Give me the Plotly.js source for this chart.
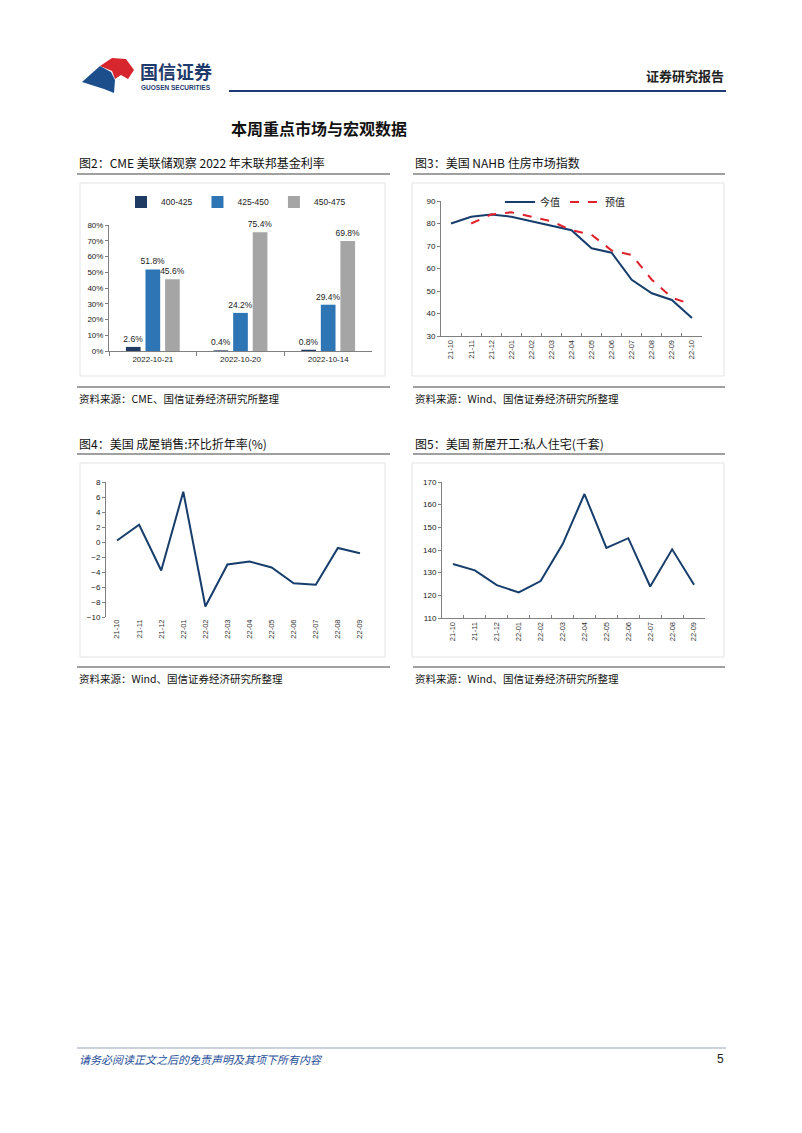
<!DOCTYPE html>
<html>
<head>
<meta charset="utf-8">
<script src="https://cdn.plot.ly/plotly-3.0.1.min.js"></script>
<style>
body { margin: 0; background: #fff; }
#page { width: 802px; height: 1133px; }
</style>
</head>
<body>
<div id="page"></div>
<script>
// 图2 CME 美联储观察
var fedDates = ['2022-10-21', '2022-10-20', '2022-10-14'];
var rateNames = ['400-425', '425-450', '450-475'];
var rate400 = [2.6, 0.4, 0.8];
var rate425 = [51.8, 24.2, 29.4];
var rate450 = [45.6, 75.4, 69.8];

// 图3 NAHB 住房市场指数
var nahbMonths = ['21-10', '21-11', '21-12', '22-01', '22-02', '22-03', '22-04', '22-05', '22-06', '22-07', '22-08', '22-09', '22-10'];
var nahbActual = [80, 83, 84, 83, 81, 79, 77, 69, 67, 55, 49, 46, 38];
var nahbForecast = [null, 80, 84, 85, 83, 81, 77, 75, 68, 66, 55, 47, 44];

// 图4 成屋销售 环比折年率
var saleMonths = ['21-10', '21-11', '21-12', '22-01', '22-02', '22-03', '22-04', '22-05', '22-06', '22-07', '22-08', '22-09'];
var homeSales = [0.2, 2.3, -3.8, 6.7, -8.6, -3.0, -2.6, -3.4, -5.5, -5.7, -0.8, -1.5];

// 图5 新屋开工 私人住宅
var startMonths = ['21-10', '21-11', '21-12', '22-01', '22-02', '22-03', '22-04', '22-05', '22-06', '22-07', '22-08', '22-09'];
var housingStarts = [133.8, 131.0, 124.5, 121.3, 126.3, 142.5, 164.7, 140.9, 145.2, 123.9, 140.3, 124.7];

var W = 802, H = 1133;
function px(x) { return x / W; }
function py(y) { return 1 - y / H; }

var cjk = '"Noto Sans CJK SC", "Liberation Sans", sans-serif';
var sans = '"Liberation Sans", Arial, sans-serif';
var navy = '#163d6b';
var axisGray = '#808080';

function pct(arr) {
    return arr.map(function (v) { return v.toFixed(1) + '%'; });
}

var barColors = ['#1f3b63', '#2e75b6', '#a5a5a5'];
var barData = [rate400, rate425, rate450];

var data = [];
for (let i = 0; i < 3; i++) {
    data.push({
        type: 'bar',
        x: fedDates,
        y: barData[i],
        name: rateNames[i],
        marker: { color: barColors[i] },
        text: pct(barData[i]),
        textposition: 'outside',
        constraintext: 'none',
        cliponaxis: false,
        textfont: { family: sans, size: 8.5, color: '#222' },
        xaxis: 'x',
        yaxis: 'y',
        legend: 'legend',
        hoverinfo: 'skip'
    });
}

data.push({
    type: 'scatter', mode: 'lines',
    x: nahbMonths, y: nahbActual, name: '今值',
    line: { color: navy, width: 2 },
    xaxis: 'x2', yaxis: 'y2', legend: 'legend2'
});
data.push({
    type: 'scatter', mode: 'lines',
    x: nahbMonths, y: nahbForecast, name: '预值',
    line: { color: '#e0202a', width: 2, dash: 'dash' },
    connectgaps: false,
    xaxis: 'x2', yaxis: 'y2', legend: 'legend2'
});
data.push({
    type: 'scatter', mode: 'lines',
    x: saleMonths, y: homeSales, showlegend: false,
    line: { color: navy, width: 2 },
    xaxis: 'x3', yaxis: 'y3'
});
data.push({
    type: 'scatter', mode: 'lines',
    x: startMonths, y: housingStarts, showlegend: false,
    line: { color: navy, width: 2 },
    xaxis: 'x4', yaxis: 'y4'
});

var tickFont = { family: sans, size: 8, color: '#222' };
var rotFont = { family: sans, size: 7.5, color: '#333' };

function catAxis(dom, anchor, n, extra) {
    var ax = {
        domain: dom, anchor: anchor, type: 'category',
        range: [-0.5, n - 0.5],
        showline: true, linecolor: axisGray, linewidth: 1,
        showgrid: false, zeroline: false,
        tickson: 'boundaries', ticks: 'inside', ticklen: 3, tickcolor: axisGray,
        tickangle: -90, tickfont: rotFont, fixedrange: true
    };
    for (var k in extra) ax[k] = extra[k];
    return ax;
}
function valAxis(dom, anchor, range, dtick, extra) {
    var ax = {
        domain: dom, anchor: anchor, range: range, dtick: dtick,
        showline: true, linecolor: axisGray, linewidth: 1,
        showgrid: false, zeroline: false,
        ticks: 'outside', ticklen: 3, tickcolor: axisGray,
        tickfont: tickFont, fixedrange: true
    };
    for (var k in extra) ax[k] = extra[k];
    return ax;
}

// 图4 的横轴线画在 0 处
var y3Range = [-10, 8];
var y3Dom = [py(617), py(482)];
var zeroPos = y3Dom[0] + (0 - y3Range[0]) / (y3Range[1] - y3Range[0]) * (y3Dom[1] - y3Dom[0]);

var layout = {
    width: W, height: H,
    margin: { l: 0, r: 0, t: 0, b: 0 },
    paper_bgcolor: '#fff', plot_bgcolor: 'rgba(0,0,0,0)',
    barmode: 'group', bargap: 0.33, bargroupgap: 0.25,
    xaxis: catAxis([px(109), px(372)], 'y', 3, {
        tickangle: 0, ticks: 'outside', ticklen: 4, tickfont: tickFont
    }),
    yaxis: valAxis([py(351), py(225)], 'x', [0, 80], 10, { ticksuffix: '%' }),
    xaxis2: catAxis([px(441), px(702)], 'y2', nahbMonths.length, {}),
    yaxis2: valAxis([py(336), py(201)], 'x2', [30, 90], 10, {}),
    xaxis3: catAxis([px(106), px(371)], 'y3', saleMonths.length, {
        showline: false, ticks: ''
    }),
    yaxis3: valAxis(y3Dom, 'x3', y3Range, 2, {}),
    xaxis5: {
        overlaying: 'x3', anchor: 'free', position: zeroPos,
        range: [-0.5, saleMonths.length - 0.5],
        tickmode: 'linear', tick0: 0.5, dtick: 1,
        showticklabels: false, showline: true, linecolor: axisGray,
        ticks: 'outside', ticklen: 3, tickcolor: axisGray,
        showgrid: false, zeroline: false, fixedrange: true
    },
    xaxis4: catAxis([px(442), px(705)], 'y4', startMonths.length, {}),
    yaxis4: valAxis([py(618), py(482)], 'x4', [110, 170], 10, {}),
    legend: {
        orientation: 'h', x: px(236), xanchor: 'center', y: py(202), yanchor: 'middle',
        font: { family: sans, size: 8.5, color: '#222' },
        bgcolor: 'rgba(0,0,0,0)', itemwidth: 30, tracegroupgap: 0
    },
    legend2: {
        orientation: 'h', x: px(500), xanchor: 'left', y: py(202), yanchor: 'middle',
        font: { family: cjk, size: 10, color: '#222' },
        bgcolor: 'rgba(0,0,0,0)'
    },
    shapes: [],
    annotations: []
};

// 页眉页脚的线条
layout.shapes.push({ type: 'line', xref: 'paper', yref: 'paper', x0: px(229), x1: px(726), y0: py(91), y1: py(91), line: { color: '#1f3b73', width: 2 } });
layout.shapes.push({ type: 'line', xref: 'paper', yref: 'paper', x0: px(77), x1: px(726), y0: py(1048), y1: py(1048), line: { color: '#9aa6b8', width: 1 } });

// logo
layout.shapes.push({
    type: 'path', xref: 'paper', yref: 'paper',
    path: 'M' + px(100) + ',' + py(66) + ' L' + px(112) + ',' + py(58) + ' L' + px(126) + ',' + py(59) +
        ' L' + px(134) + ',' + py(70) + ' L' + px(128) + ',' + py(79) + ' L' + px(121) + ',' + py(75) +
        ' L' + px(115) + ',' + py(79) + ' L' + px(112) + ',' + py(71) + ' Z',
    fillcolor: '#d7262e', line: { width: 0 }
});
layout.shapes.push({
    type: 'path', xref: 'paper', yref: 'paper',
    path: 'M' + px(82) + ',' + py(82) + ' L' + px(100) + ',' + py(66) + ' L' + px(111) + ',' + py(72) +
        ' L' + px(115) + ',' + py(80) + ' L' + px(114) + ',' + py(93) + ' L' + px(104) + ',' + py(89) + ' Z',
    fillcolor: '#1d4e8c', line: { width: 0 }
});

// 四个图的标题线、框和来源线
var panels = [
    { x0: 77, x1: 390, top: 163, box: [80, 385, 183, 376], src: 387, title: '图2：CME 美联储观察 2022 年末联邦基金利率', source: '资料来源：CME、国信证券经济研究所整理' },
    { x0: 413, x1: 725, top: 163, box: [412, 724, 183, 376], src: 387, title: '图3：美国 NAHB 住房市场指数', source: '资料来源：Wind、国信证券经济研究所整理' },
    { x0: 77, x1: 390, top: 443, box: [80, 385, 463, 657], src: 667, title: '图4：美国 成屋销售:环比折年率(%)', source: '资料来源：Wind、国信证券经济研究所整理' },
    { x0: 413, x1: 725, top: 443, box: [412, 724, 463, 657], src: 667, title: '图5：美国 新屋开工:私人住宅(千套)', source: '资料来源：Wind、国信证券经济研究所整理' }
];
panels.forEach(function (p) {
    layout.shapes.push({ type: 'line', xref: 'paper', yref: 'paper', x0: px(p.x0), x1: px(p.x1), y0: py(p.top + 11), y1: py(p.top + 11), line: { color: '#808080', width: 1.5 } });
    layout.shapes.push({ type: 'rect', xref: 'paper', yref: 'paper', x0: px(p.box[0]), x1: px(p.box[1]), y0: py(p.box[3]), y1: py(p.box[2]), line: { color: '#e3e3e3', width: 1 } });
    layout.shapes.push({ type: 'line', xref: 'paper', yref: 'paper', x0: px(p.x0), x1: px(p.x1), y0: py(p.src), y1: py(p.src), line: { color: '#808080', width: 1.5 } });
    layout.annotations.push({ xref: 'paper', yref: 'paper', x: px(p.x0), y: py(p.top), xanchor: 'left', yanchor: 'middle', showarrow: false, text: p.title, font: { family: cjk, size: 12, color: '#111' } });
    layout.annotations.push({ xref: 'paper', yref: 'paper', x: px(p.x0), y: py(p.src + 11), xanchor: 'left', yanchor: 'middle', showarrow: false, text: p.source, font: { family: cjk, size: 10.5, color: '#111' } });
});

// 文字
layout.annotations.push({ xref: 'paper', yref: 'paper', x: px(138), y: py(71), xanchor: 'left', yanchor: 'middle', showarrow: false, text: '<b>国信证券</b>', font: { family: cjk, size: 18, color: '#1f3b6b' } });
layout.annotations.push({ xref: 'paper', yref: 'paper', x: px(139), y: py(88), xanchor: 'left', yanchor: 'middle', showarrow: false, text: '<b>GUOSEN SECURITIES</b>', font: { family: sans, size: 6.5, color: '#1f3b6b' } });
layout.annotations.push({ xref: 'paper', yref: 'paper', x: px(726), y: py(76), xanchor: 'right', yanchor: 'middle', showarrow: false, text: '<b>证券研究报告</b>', font: { family: cjk, size: 13, color: '#222' } });
layout.annotations.push({ xref: 'paper', yref: 'paper', x: px(229), y: py(128), xanchor: 'left', yanchor: 'middle', showarrow: false, text: '<b>本周重点市场与宏观数据</b>', font: { family: cjk, size: 16, color: '#111' } });
layout.annotations.push({ xref: 'paper', yref: 'paper', x: px(77), y: py(1059), xanchor: 'left', yanchor: 'middle', showarrow: false, text: '<i>请务必阅读正文之后的免责声明及其项下所有内容</i>', font: { family: cjk, size: 11, color: '#1f4e99' } });
layout.annotations.push({ xref: 'paper', yref: 'paper', x: px(726), y: py(1059), xanchor: 'right', yanchor: 'middle', showarrow: false, text: '5', font: { family: sans, size: 12, color: '#222' } });

Plotly.newPlot('page', data, layout, { staticPlot: true, displayModeBar: false });
</script>
</body>
</html>
